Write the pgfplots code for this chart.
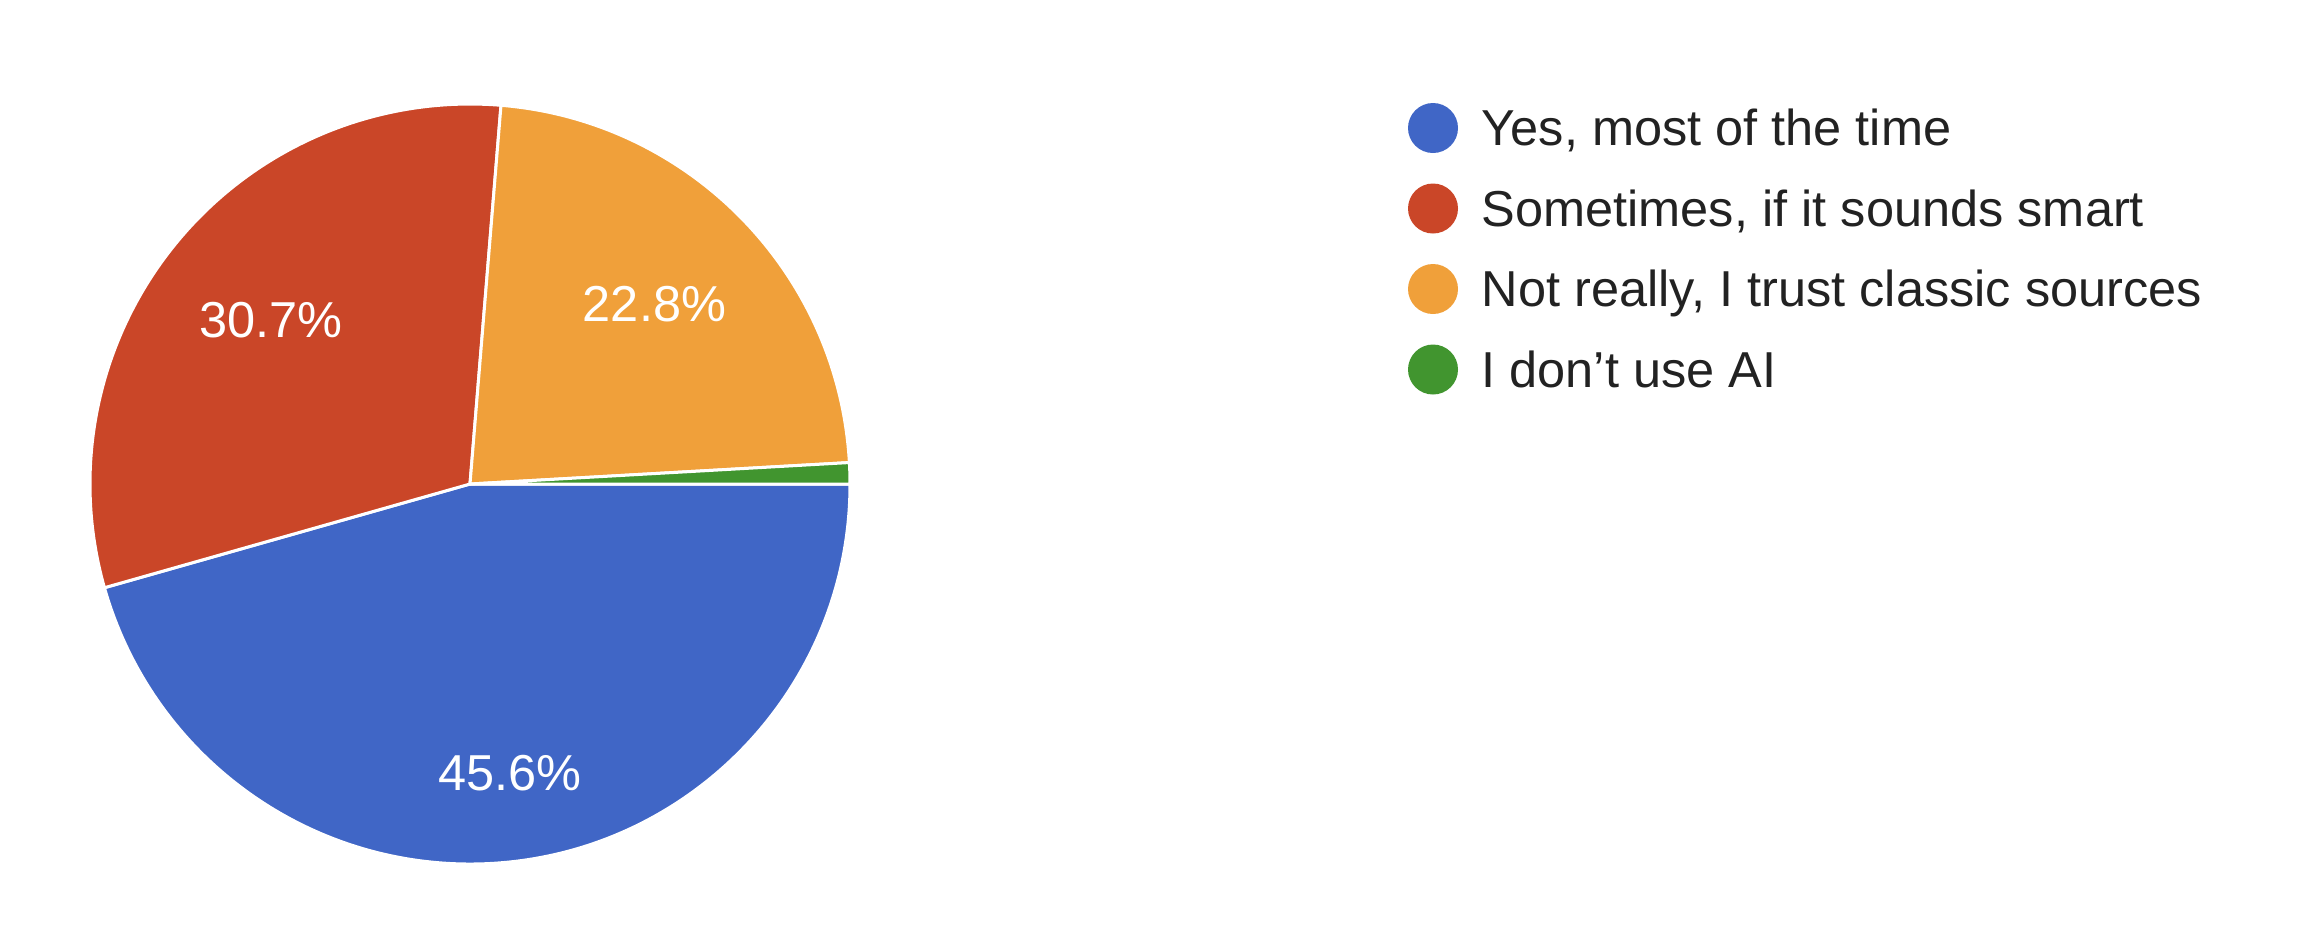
\documentclass[border=0pt]{standalone}
\usepackage{pgfplots}
\pgfplotsset{compat=1.18}
\usepackage{pgfplotstable}
\usepackage{fontspec}
\setmainfont{Liberation Sans}
\definecolor{cBlue}{HTML}{4066C6}
\definecolor{cRed}{HTML}{CA4628}
\definecolor{cOrange}{HTML}{F0A03A}
\definecolor{cGreen}{HTML}{41952F}
\definecolor{cText}{HTML}{222222}

% share (%), label distance (fraction of radius), colour, legend text
\pgfplotstableread[col sep=semicolon]{
value;labr;col;name
45.6;0.767;cBlue;Yes, most of the time
30.7;0.678;cRed;Sometimes, if it sounds smart
22.8;0.678;cOrange;Not really, I trust classic sources
0.9;0;cGreen;I don’t use AI
}\piedata

\begin{document}
\begin{tikzpicture}
\begin{axis}[
  scale only axis, width=693pt, height=279.6pt,
  xmin=0, xmax=2310, ymin=0, ymax=932, y dir=reverse,
  hide axis, clip=false,
  /pgf/number format/assume math mode=true,
]
\path (axis cs:0,0) rectangle (axis cs:2310,932);
\def\cx{470}\def\cy{484}\def\R{114}
\def\cum{0}
\pgfplotsforeachungrouped \i in {0,...,3}{%
  \pgfplotstablegetelem{\i}{value}\of\piedata \let\v\pgfplotsretval
  \pgfplotstablegetelem{\i}{labr}\of\piedata \let\lr\pgfplotsretval
  \pgfplotstablegetelem{\i}{col}\of\piedata \let\c\pgfplotsretval
  \pgfplotstablegetelem{\i}{name}\of\piedata \let\nm\pgfplotsretval
  \pgfmathsetmacro{\a}{-\cum*3.6}%
  \pgfmathsetmacro{\b}{-(\cum+\v)*3.6}%
  \pgfmathsetmacro{\m}{(\a+\b)/2}%
  \pgfmathsetmacro{\ld}{\lr*\R}%
  \pgfmathsetmacro{\ly}{128+80.5*\i}%
  \pgfmathsetmacro{\lyb}{\ly+17.5}%
  \edef\cmd{%
    \noexpand\fill[\c, draw=white, line width=0.9pt, line join=round]
      (axis cs:\cx,\cy) -- ++(\a:\R pt) arc[start angle=\a, end angle=\b, radius=\R pt] -- cycle;
    \noexpand\fill[\c] (axis cs:1433,\ly) circle[radius=7.5pt];
    \noexpand\node[anchor=base west, text=cText, font=\noexpand\fontsize{15.15}{18}\noexpand\selectfont, inner sep=0pt]
      at (axis cs:1481,\lyb) {\nm};
  }\cmd
  \pgfmathparse{\v>5 ? 1 : 0}%
  \ifnum\pgfmathresult=1
    \edef\cmd{%
      \noexpand\path (axis cs:\cx,\cy) ++(\m:\ld pt) node[text=white, font=\noexpand\fontsize{15.15}{18}\noexpand\selectfont, inner sep=0pt] {\v\noexpand\%};
    }\cmd
  \fi
  \pgfmathsetmacro{\cum}{\cum+\v}%
}
\end{axis}
\end{tikzpicture}
\end{document}
